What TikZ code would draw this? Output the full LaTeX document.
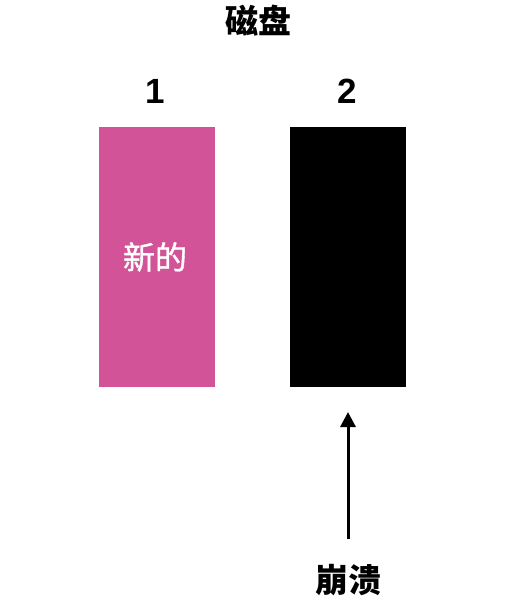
\documentclass[tikz,border=0pt]{standalone}
\usepackage{fontspec}
\setmainfont{Liberation Sans}
\newfontfamily\cjk{Noto Sans CJK SC}
\newfontfamily\cjkmed{Noto Sans CJK SC}[FakeBold=1.2]
\usetikzlibrary{arrows.meta,positioning}
\definecolor{diskpink}{RGB}{211,83,152}
\tikzset{
  disk/.style={rectangle,minimum width=116pt,minimum height=260pt,inner sep=0pt},
  bigtext/.style={font=\fontsize{33}{36}\selectfont\bfseries\cjk},
  numtext/.style={font=\fontsize{35}{38}\selectfont\bfseries}
}
\begin{document}
\begin{tikzpicture}[x=1pt,y=-1pt]
	\useasboundingbox (0,0) rectangle (531,609);

	\node[bigtext] (title) at (258,21) {磁盘};

	\node[disk,fill=diskpink] (disk1) at (157,257) {};
	\node[disk,fill=black] (disk2) at (347.5,257) {};

	\node[numtext] (num1) at (155,91) {1};
	\node[numtext] (num2) at (347,91) {2};

	\node[font=\fontsize{32}{36}\selectfont\cjkmed,text=white] (new) at (155,257) {新的};

	\node[bigtext] (crash) at (348,580) {崩溃};
	\coordinate (tail) at (348,539);
	\coordinate (tip) at (348,412);
	\draw[line width=3pt,-{Triangle[width=15pt,length=15pt]}] (tail) -- (tip);
\end{tikzpicture}
\end{document}
